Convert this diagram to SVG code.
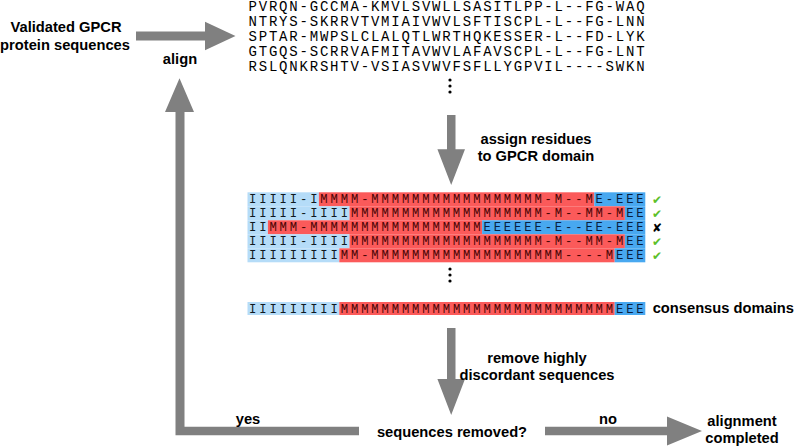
<svg xmlns="http://www.w3.org/2000/svg" width="795" height="448" viewBox="0 0 795 448">
<defs>
<style>
.lbl{font-family:"Liberation Sans",Arial,sans-serif;font-weight:bold;font-size:14.7px;fill:#000;text-anchor:middle}
.seq{font-family:"Liberation Mono","Courier New",monospace;font-size:14px;letter-spacing:1.8px;fill:#000}
.dom{font-family:"Liberation Mono","Courier New",monospace;font-size:12.2px;letter-spacing:2.88px;fill:#000}
.arr{fill:#808080}
.bi{fill:#b5dcf8}
.bm{fill:#fb5a5a}
.be{fill:#48a8f0}
.ti{fill:#101820}
.tm{fill:#4a0505}
.te{fill:#08203f}
.ok{font-family:"DejaVu Sans",sans-serif;font-size:12px;fill:#5cc02b}
.no{font-family:"DejaVu Sans",sans-serif;font-size:12px;fill:#000}
</style>
</defs>
<rect width="795" height="448" fill="#fff"/>

<g id="input">
<text class="lbl" x="66" y="32">Validated GPCR</text>
<text class="lbl" x="65" y="50">protein sequences</text>
</g>

<g id="alignment">
<text class="seq" x="248.5" y="11">PVRQN-GCCMA-KMVLSVWLLSASITLPP-L--FG-WAQ</text>
<text class="seq" x="248.5" y="26">NTRYS-SKRRVTVMIAIVWVLSFTISCPL-L--FG-LNN</text>
<text class="seq" x="248.5" y="41">SPTAR-MWPSLCLALQTLWRTHQKESSER-L--FD-LYK</text>
<text class="seq" x="248.5" y="56">GTGQS-SCRRVAFMITAVWVLAFAVSCPL-L--FG-LNT</text>
<text class="seq" x="248.5" y="71">RSLQNKRSHTV-VSIASVWVFSFLLYGPVIL----SWKN</text>
<circle cx="450" cy="80" r="1.6"/>
<circle cx="450" cy="86" r="1.6"/>
<circle cx="450" cy="92" r="1.6"/>
</g>

<g id="domains">
<rect class="bi" x="247.5" y="192.3" width="71.4" height="14"/>
<rect class="bm" x="318.9" y="192.3" width="275.4" height="14"/>
<rect class="be" x="594.3" y="192.3" width="51" height="14"/>
<rect class="bi" x="247.5" y="206.3" width="102" height="14"/>
<rect class="bm" x="349.5" y="206.3" width="275.4" height="14"/>
<rect class="be" x="624.9" y="206.3" width="20.4" height="14"/>
<rect class="bi" x="247.5" y="220.3" width="20.4" height="14"/>
<rect class="bm" x="267.9" y="220.3" width="214.2" height="14"/>
<rect class="be" x="482.1" y="220.3" width="163.2" height="14"/>
<rect class="bi" x="247.5" y="234.3" width="102" height="14"/>
<rect class="bm" x="349.5" y="234.3" width="275.4" height="14"/>
<rect class="be" x="624.9" y="234.3" width="20.4" height="14"/>
<rect class="bi" x="247.5" y="248.3" width="91.8" height="14"/>
<rect class="bm" x="339.3" y="248.3" width="275.4" height="14"/>
<rect class="be" x="614.7" y="248.3" width="30.6" height="14"/>

<text class="dom" x="249" y="203.3"><tspan class="ti">IIIII-I</tspan><tspan class="tm">MMMM-MMMMMMMMMMMMMMMMM-M--M</tspan><tspan class="te">E-EEE</tspan></text>
<text class="dom" x="249" y="217.3"><tspan class="ti">IIIII-IIII</tspan><tspan class="tm">MMMMMMMMMMMMMMMMMMM-M--MM-M</tspan><tspan class="te">EE</tspan></text>
<text class="dom" x="249" y="231.3"><tspan class="ti">II</tspan><tspan class="tm">MMM-MMMMMMMMMMMMMMMMM</tspan><tspan class="te">EEEEEE-E--EE-EEE</tspan></text>
<text class="dom" x="249" y="245.3"><tspan class="ti">IIIII-IIII</tspan><tspan class="tm">MMMMMMMMMMMMMMMMMMM-M--MM-M</tspan><tspan class="te">EE</tspan></text>
<text class="dom" x="249" y="259.3"><tspan class="ti">IIIIIIIII</tspan><tspan class="tm">MM-MMMMMMMMMMMMMMMMMMM----M</tspan><tspan class="te">EEE</tspan></text>

<text class="ok" x="652" y="204">✔</text>
<text class="ok" x="652" y="218">✔</text>
<text class="no" x="652" y="232">✘</text>
<text class="ok" x="652" y="246">✔</text>
<text class="ok" x="652" y="260">✔</text>

<circle cx="450" cy="269" r="1.6"/>
<circle cx="450" cy="275" r="1.6"/>
<circle cx="450" cy="281" r="1.6"/>
</g>

<g id="consensus">
<rect class="bi" x="247.5" y="302" width="91.8" height="13"/>
<rect class="bm" x="339.3" y="302" width="275.4" height="13"/>
<rect class="be" x="614.7" y="302" width="30.6" height="13"/>
<text class="dom" x="249" y="312.7"><tspan class="ti">IIIIIIIII</tspan><tspan class="tm">MMMMMMMMMMMMMMMMMMMMMMMMMMM</tspan><tspan class="te">EEE</tspan></text>
<text class="lbl" x="652.7" y="312.5" style="text-anchor:start">consensus domains</text>
</g>

<g id="decision">
<text class="lbl" x="452" y="437">sequences removed?</text>
</g>

<g id="done">
<text class="lbl" x="742" y="426">alignment</text>
<text class="lbl" x="742" y="443">completed</text>
</g>

<g id="connectors">
<polygon class="arr" points="136,31.5 205,31.5 205,21.7 235.5,36 205,50.3 205,40.5 136,40.5"/>
<text class="lbl" x="180" y="64">align</text>

<polygon class="arr" points="447,115 455.5,115 455.5,149.3 465,149.3 451.2,185 437.4,149.3 447,149.3"/>
<text class="lbl" x="536" y="144">assign residues</text>
<text class="lbl" x="536" y="161">to GPCR domain</text>

<polygon class="arr" points="447,328 455.5,328 455.5,379 465,379 451.2,415 437.4,379 447,379"/>
<text class="lbl" x="537" y="363">remove highly</text>
<text class="lbl" x="537" y="380">discordant sequences</text>

<polygon class="arr" points="359,426.7 359,435.3 175.5,435.3 175.5,112 165,112 179.5,78.3 194,112 184.5,112 184.5,426.7"/>
<text class="lbl" x="248" y="424">yes</text>

<polygon class="arr" points="545,426.7 667,426.7 667,416.5 702,431 667,445.5 667,435.3 545,435.3"/>
<text class="lbl" x="608" y="424">no</text>
</g>
</svg>
